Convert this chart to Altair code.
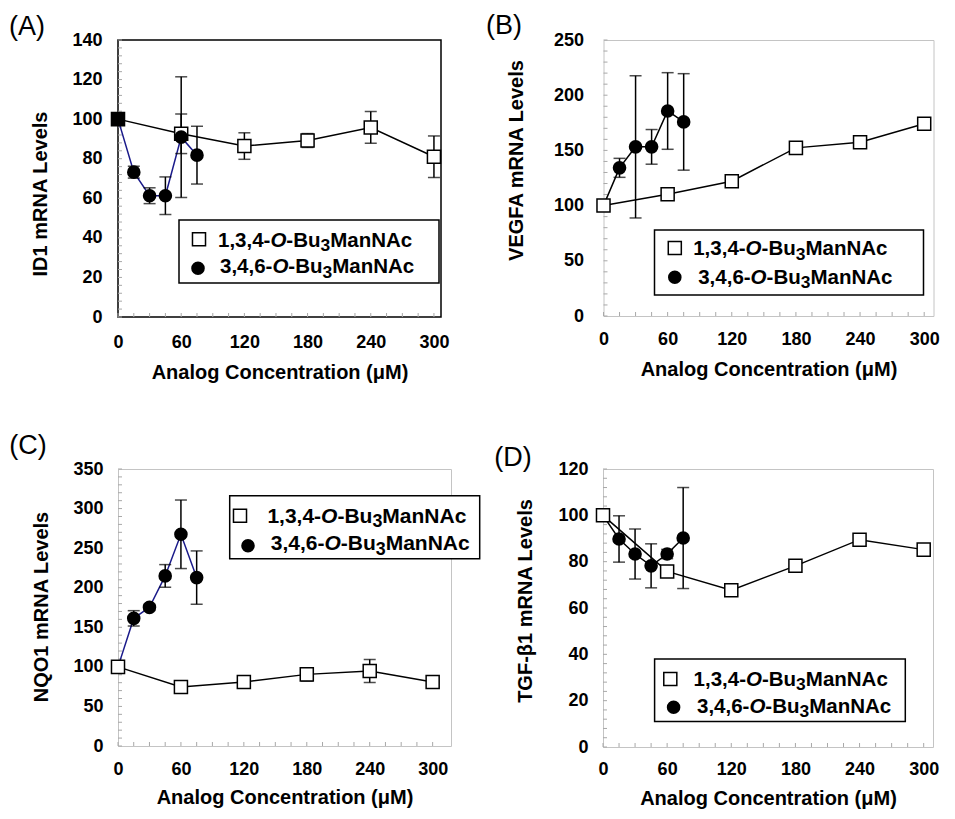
import altair as alt
import pandas as pd

FONT = "Liberation Sans"

# ---------------- data ----------------
conc_sq = [0, 60, 120, 180, 240, 300]
conc_ci = [0, 15, 30, 45, 60, 75]

id1_sq = [100, 92.6, 86.4, 89.2, 95.8, 81.0]
id1_sq_err = [0, 10.0, 6.7, 3.5, 8.0, 10.5]
id1_ci = [100, 73.2, 61.3, 61.3, 90.9, 81.8]
id1_ci_err = [0, 3.0, 4.0, 9.5, 30.5, 14.6]

vegfa_sq = [100, 110.3, 122.1, 152.3, 157.3, 174.2]
vegfa_sq_err = [0, 0, 0, 0, 0, 0]
vegfa_ci = [100, 134.2, 153.2, 153.2, 185.7, 175.8]
vegfa_ci_err = [0, 8.6, 64.4, 15.7, 34.7, 43.7]

nqo1_sq = [100, 74.6, 80.9, 90.5, 94.8, 80.9]
nqo1_sq_err = [0, 2.0, 6.3, 8.4, 14.6, 5.8]
nqo1_ci = [100, 161.3, 175.2, 214.9, 267.5, 212.8]
nqo1_ci_err = [0, 9.7, 4.0, 14.3, 43.3, 33.7]

tgfb1_sq = [100, 75.8, 67.7, 78.2, 89.5, 85.2]
tgfb1_sq_err = [0, 0, 0, 0, 0, 0]
tgfb1_ci = [100, 89.8, 83.3, 78.2, 83.3, 90.2]
tgfb1_ci_err = [0, 10.0, 10.8, 9.5, 2.0, 21.8]

x_ticks = [0, 60, 120, 180, 240, 300]
x_title = "Analog Concentration (\u03bcM)"
panel_letters = ["(A)", "(B)", "(C)", "(D)"]
y_titles = ["ID1 mRNA Levels", "VEGFA mRNA Levels", "NQO1 mRNA Levels", "TGF-\u03b21 mRNA Levels"]
legend_lines = [["1,3,4-", "O", "-Bu", "3", "ManNAc"],
                ["3,4,6-", "O", "-Bu", "3", "ManNAc"]]

# Arial/Liberation Sans Bold advance widths (per 1000 em)
BOLD_W = {'0': 556, '1': 556, '2': 556, '3': 556, '4': 556, '5': 556, '6': 556,
          ',': 278, '-': 333, 'O': 778, 'B': 722, 'u': 611, 'M': 833, 'a': 556,
          'n': 611, 'N': 722, 'A': 722, 'c': 556}


def tw(s, size):
    return sum(BOLD_W[c] for c in s) / 1000.0 * size


def panel(cfg):
    W, H = cfg["W"], cfg["H"]
    xs = alt.Scale(domain=[0, cfg["xmax"]], nice=False, zero=False)
    ys = alt.Scale(domain=[0, cfg["ymax"]], nice=False, zero=False)
    xaxis = alt.Axis(values=x_ticks, format="d", title=x_title,
                     titleX=W / 2, titleY=cfg["xtitle_y"], titleAlign="center",
                     titleBaseline="alphabetic", labelPadding=cfg["xlp"],
                     domain=False, ticks=False, tickSize=0, grid=False,
                     labelFlush=False, labelOverlap=False, labelBound=False)
    yaxis = alt.Axis(values=list(range(0, cfg["ymax"] + 1, cfg["ystep"])), format="d",
                     title=cfg["ytitle"], titleX=cfg["ytitle_x"], titleY=cfg["ytitle_y"],
                     titleAngle=270, titleAlign="center", titleBaseline="alphabetic",
                     labelPadding=cfg["ylp"], domain=False, ticks=False, tickSize=0,
                     grid=False, labelFlush=False, labelOverlap=False, labelBound=False)

    def X(f):
        return alt.X(f, scale=xs, axis=xaxis)

    def Y(f):
        return alt.Y(f, scale=ys, axis=yaxis)

    sq = pd.DataFrame({"x": conc_sq, "y": cfg["sq"], "e": cfg["sq_err"]})
    ci = pd.DataFrame({"x": conc_ci, "y": cfg["ci"], "e": cfg["ci_err"]})
    err = pd.concat([sq, ci])
    err = err[err["e"] > 0].copy()
    err["lo"] = err["y"] - err["e"]
    err["hi"] = err["y"] + err["e"]
    caps = pd.concat([pd.DataFrame({"x": err["x"], "y": err["lo"]}),
                      pd.DataFrame({"x": err["x"], "y": err["hi"]})])

    layers = []
    layers.append(alt.Chart(sq).mark_line(color="black", strokeWidth=1.5).encode(
        x=X("x:Q"), y=Y("y:Q")))
    # minor ticks (inside)
    xt = pd.DataFrame({"x": list(range(0, 301, 15))})
    layers.append(alt.Chart(xt).mark_rule(color="#a8a8a8", strokeWidth=1).encode(
        x=X("x:Q"), y=alt.value(H), y2=alt.value(H - 4)))
    yt = pd.DataFrame({"y": [i * cfg["ystep"] / 5 for i in range(0, 5 * cfg["ymax"] // cfg["ystep"] + 1)]})
    layers.append(alt.Chart(yt).mark_rule(color="#a8a8a8", strokeWidth=1).encode(
        y=Y("y:Q"), x=alt.value(0), x2=alt.value(4)))
    layers.append(alt.Chart(ci).mark_line(color=cfg["ci_line"], strokeWidth=1.5).encode(
        x=X("x:Q"), y=Y("y:Q")))
    if len(err):
        layers.append(alt.Chart(err).mark_rule(color="black", strokeWidth=1.5).encode(
            x=X("x:Q"), y=Y("lo:Q"), y2="hi:Q"))
        layers.append(alt.Chart(caps).mark_tick(color="black", orient="horizontal",
                                                size=12, thickness=1.5).encode(
            x=X("x:Q"), y=Y("y:Q")))
    layers.append(alt.Chart(sq).mark_point(shape="square", filled=True, fill="white",
                                           stroke="black", strokeWidth=1.5, size=170,
                                           opacity=1).encode(x=X("x:Q"), y=Y("y:Q")))
    layers.append(alt.Chart(ci[ci["x"] > 0]).mark_point(shape="circle", filled=True,
                                                       color="black", size=185,
                                                       opacity=1).encode(
        x=X("x:Q"), y=Y("y:Q")))
    if cfg.get("first_filled"):
        layers.append(alt.Chart(ci[ci["x"] == 0]).mark_point(shape="square", filled=True,
                                                            color="black", size=170,
                                                            opacity=1).encode(
            x=X("x:Q"), y=Y("y:Q")))

    # legend
    one = pd.DataFrame({"k": [0]})
    bx0, by0, bx1, by1 = cfg["box"]
    layers.append(alt.Chart(one).mark_rect(fill="white", stroke="black", strokeWidth=1.5).encode(
        x=alt.value(bx0), x2=alt.value(bx1), y=alt.value(by0), y2=alt.value(by1)))
    (s1x, s1y), (s2x, s2y) = cfg["sym"]
    layers.append(alt.Chart(one).mark_point(shape="square", filled=True, fill="white",
                                            stroke="black", strokeWidth=1.5, size=170,
                                            opacity=1).encode(
        x=alt.value(s1x), y=alt.value(s1y)))
    layers.append(alt.Chart(one).mark_point(shape="circle", filled=True, color="black",
                                            size=185, opacity=1).encode(
        x=alt.value(s2x), y=alt.value(s2y)))
    F = cfg["lf"]
    for line, x0, yc in zip(legend_lines, cfg["tx"], cfg["ty"]):
        xpos = x0
        base = yc + 0.358 * F
        for i, seg in enumerate(line):
            size = F * 0.85 if i == 3 else F
            ypos = base + (0.22 * F if i == 3 else 0)
            layers.append(alt.Chart(pd.DataFrame({"t": [seg]})).mark_text(
                font=FONT, fontSize=size, fontWeight="bold",
                fontStyle="italic" if i == 1 else "normal",
                align="left", baseline="alphabetic", color="black").encode(
                text="t:N", x=alt.value(xpos), y=alt.value(ypos)))
            xpos += tw(seg, size)

    lx, ly = cfg["letter"]
    layers.append(alt.Chart(pd.DataFrame({"t": [cfg["name"]]})).mark_text(
        font=FONT, fontSize=27, fontWeight="normal", align="center",
        baseline="alphabetic", color="black").encode(
        text="t:N", x=alt.value(lx), y=alt.value(ly + 6.5)))

    return alt.layer(*layers).properties(
        width=W, height=H,
        view=alt.ViewBackground(stroke=cfg["frame"], strokeWidth=cfg["fw"], fill="white"))


cfgA = dict(name=panel_letters[0], W=323, H=277, xmax=306.7, ymax=140, ystep=20,
            sq=id1_sq, sq_err=id1_sq_err, ci=id1_ci, ci_err=id1_ci_err,
            ci_line="#1a1a8a", first_filled=True, frame="black", fw=1.5,
            ytitle=y_titles[0], ytitle_x=-71.5, ytitle_y=153.5, ylp=16,
            xtitle_y=61, xlp=16,
            box=(61, 180, 321, 243), sym=((81, 199.3), (80, 228.3)),
            tx=(100, 102), ty=(199.3, 226), lf=20.5, letter=(-91, -11.5))
cfgB = dict(name=panel_letters[1], W=330, H=276, xmax=308.7, ymax=250, ystep=50,
            sq=vegfa_sq, sq_err=vegfa_sq_err, ci=vegfa_ci, ci_err=vegfa_ci_err,
            ci_line="black", frame="#c4c4c4", fw=1,
            ytitle=y_titles[1], ytitle_x=-81.5, ytitle_y=120, ylp=20,
            xtitle_y=59, xlp=14,
            box=(51, 190, 320, 255), sym=((71.3, 208), (71.3, 237.3)),
            tx=(89.7, 94.7), ty=(208, 236.3), lf=20.5, letter=(-99.5, -12.5))
cfgC = dict(name=panel_letters[2], W=333, H=277, xmax=317.5, ymax=350, ystep=50,
            sq=nqo1_sq, sq_err=nqo1_sq_err, ci=nqo1_ci, ci_err=nqo1_ci_err,
            ci_line="#1a1a8a", frame="#c4c4c4", fw=1,
            ytitle=y_titles[2], ytitle_x=-70.5, ytitle_y=137.5, ylp=15,
            xtitle_y=57.7, xlp=14,
            box=(111.7, 26.7, 361.7, 89.7), sym=((122, 46.7), (130, 76.7)),
            tx=(149.4, 152.7), ty=(46, 73.4), lf=21, letter=(-90, -22))
cfgD = dict(name=panel_letters[3], W=330, H=278, xmax=308.7, ymax=120, ystep=20,
            sq=tgfb1_sq, sq_err=tgfb1_sq_err, ci=tgfb1_ci, ci_err=tgfb1_ci_err,
            ci_line="black", frame="#c4c4c4", fw=1,
            ytitle=y_titles[3], ytitle_x=-71.5, ytitle_y=131.5, ylp=15,
            xtitle_y=57.2, xlp=13,
            box=(51.6, 190, 302.3, 252.6), sym=((67.3, 210), (70.6, 238.3)),
            tx=(90.6, 94), ty=(209.3, 236.6), lf=20.5, letter=(-90, -10))

row1 = alt.hconcat(panel(cfgA), panel(cfgB), spacing=35.5)
row2 = alt.hconcat(panel(cfgC), panel(cfgD), spacing=12)

chart = alt.vconcat(row1, row2, spacing=48).properties(
    padding={"top": 3, "left": 0, "right": 0, "bottom": 0}
).configure_axis(
    labelFont=FONT, labelFontSize=18, labelFontWeight="bold", labelColor="black",
    titleFont=FONT, titleFontSize=20, titleFontWeight="bold", titleColor="black"
).configure_view(strokeWidth=1)

chart.save("out.html", embed_options={"renderer": "svg", "actions": False})
